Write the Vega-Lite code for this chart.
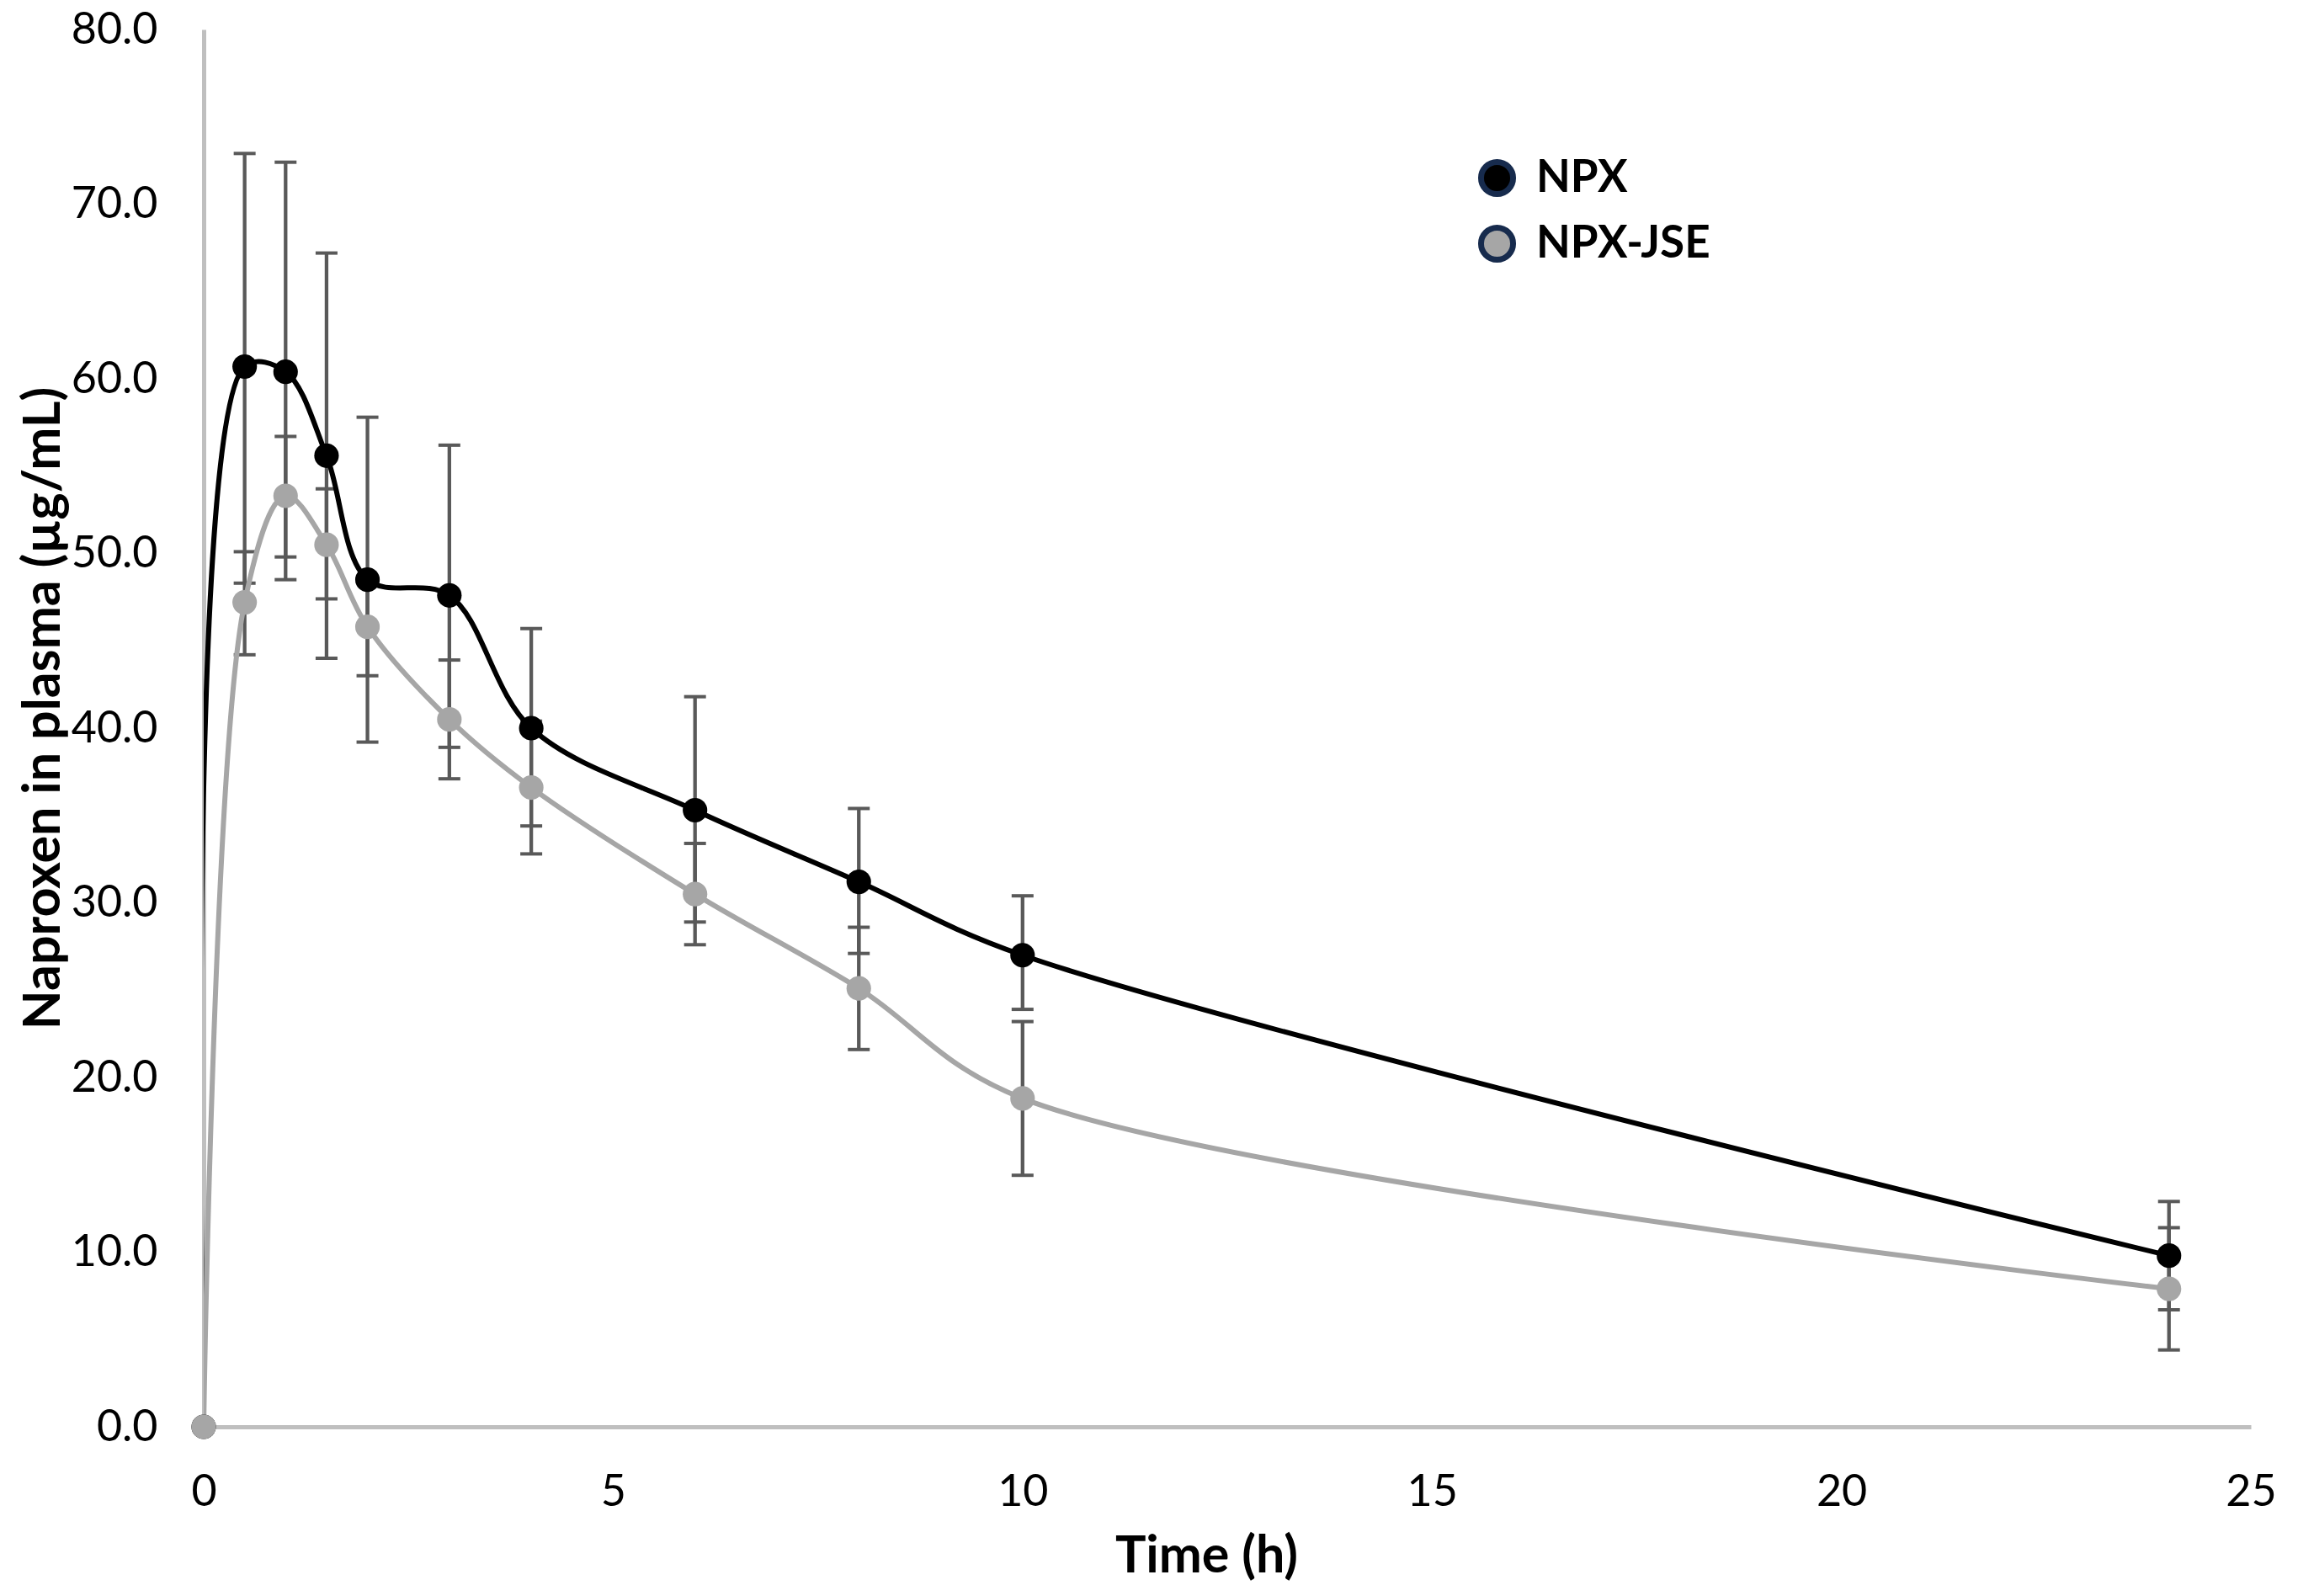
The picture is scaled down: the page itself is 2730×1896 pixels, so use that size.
{
  "$schema": "https://vega.github.io/schema/vega-lite/v6.json",
  "autosize": {"type": "none"},
  "width": 2432,
  "height": 1660,
  "padding": {"left": 242, "top": 35, "right": 56, "bottom": 201},
  "background": "#ffffff",
  "config": {
    "view": {"stroke": null},
    "font": "Lato",
    "axis": {
      "domainColor": "#bfbfbf",
      "domainWidth": 5,
      "ticks": false,
      "grid": false,
      "labelFlush": false,
      "labelFont": "Lato",
      "labelFontSize": 52,
      "labelColor": "#000000",
      "titleFont": "Lato",
      "titleFontSize": 61,
      "titleFontWeight": "bold",
      "titleColor": "#000000"
    }
  },
  "data": {
    "values": [
      {"series": "NPX", "t": 0, "c": 0, "lo": null, "hi": null},
      {"series": "NPX", "t": 0.5, "c": 60.7, "lo": 48.3, "hi": 72.9},
      {"series": "NPX", "t": 1, "c": 60.4, "lo": 48.5, "hi": 72.4},
      {"series": "NPX", "t": 1.5, "c": 55.6, "lo": 44.0, "hi": 67.2},
      {"series": "NPX", "t": 2, "c": 48.5, "lo": 39.2, "hi": 57.8},
      {"series": "NPX", "t": 3, "c": 47.6, "lo": 38.9, "hi": 56.2},
      {"series": "NPX", "t": 4, "c": 40.0, "lo": 34.4, "hi": 45.7},
      {"series": "NPX", "t": 6, "c": 35.3, "lo": 28.9, "hi": 41.8},
      {"series": "NPX", "t": 8, "c": 31.2, "lo": 27.1, "hi": 35.4},
      {"series": "NPX", "t": 10, "c": 27.0, "lo": 23.9, "hi": 30.4},
      {"series": "NPX", "t": 24, "c": 9.8, "lo": 6.7, "hi": 12.9},
      {"series": "NPX-JSE", "t": 0, "c": 0, "lo": null, "hi": null},
      {"series": "NPX-JSE", "t": 0.5, "c": 47.2, "lo": 44.2, "hi": 50.1},
      {"series": "NPX-JSE", "t": 1, "c": 53.3, "lo": 49.8, "hi": 56.7},
      {"series": "NPX-JSE", "t": 1.5, "c": 50.5, "lo": 47.4, "hi": 53.7},
      {"series": "NPX-JSE", "t": 2, "c": 45.8, "lo": 43.0, "hi": 48.6},
      {"series": "NPX-JSE", "t": 3, "c": 40.5, "lo": 37.1, "hi": 43.9},
      {"series": "NPX-JSE", "t": 4, "c": 36.6, "lo": 32.8, "hi": 40.4},
      {"series": "NPX-JSE", "t": 6, "c": 30.5, "lo": 27.6, "hi": 33.4},
      {"series": "NPX-JSE", "t": 8, "c": 25.1, "lo": 21.6, "hi": 28.6},
      {"series": "NPX-JSE", "t": 10, "c": 18.8, "lo": 14.4, "hi": 23.2},
      {"series": "NPX-JSE", "t": 24, "c": 7.9, "lo": 4.4, "hi": 11.4}
    ]
  },
  "encoding": {
    "x": {
      "field": "t", "type": "quantitative",
      "scale": {"domain": [0, 25], "nice": false, "zero": true},
      "axis": {"values": [0, 5, 10, 15, 20, 25], "title": "Time (h)", "labelPadding": 52,
               "titleX": 1191, "titleY": 154, "titleBaseline": "middle"}
    }
  },
  "layer": [
    {
      "mark": {"type": "rule", "color": "#595959", "strokeWidth": 4.3},
      "encoding": {
        "y": {"field": "lo", "type": "quantitative",
              "scale": {"domain": [0, 80], "nice": false},
              "axis": {"values": [0, 10, 20, 30, 40, 50, 60, 70, 80], "format": ".1f",
                       "title": "Naproxen in plasma (µg/mL)", "labelPadding": 55,
                       "titleX": -190, "titleY": 806, "titleAngle": -90, "titleBaseline": "middle"}},
        "y2": {"field": "hi"}
      }
    },
    {
      "mark": {"type": "tick", "orient": "horizontal", "color": "#595959", "size": 26, "thickness": 4, "opacity": 1},
      "encoding": {"y": {"field": "lo", "type": "quantitative"}}
    },
    {
      "mark": {"type": "tick", "orient": "horizontal", "color": "#595959", "size": 26, "thickness": 4, "opacity": 1},
      "encoding": {"y": {"field": "hi", "type": "quantitative"}}
    },
    {
      "mark": {"type": "line", "interpolate": "catmull-rom", "strokeWidth": 6, "clip": true},
      "encoding": {
        "y": {"field": "c", "type": "quantitative"},
        "stroke": {"field": "series", "type": "nominal",
                   "scale": {"range": ["#000000", "#a6a6a6"]},
                   "legend": null}
      }
    },
    {
      "mark": {"type": "point", "shape": "circle", "filled": true, "size": 850, "opacity": 1},
      "encoding": {
        "y": {"field": "c", "type": "quantitative"},
        "color": {"field": "series", "type": "nominal",
                  "scale": {"domain": ["NPX", "NPX-JSE"], "range": ["#000000", "#a6a6a6"]},
                  "legend": {
                    "title": null, "orient": "none", "legendX": 1510, "legendY": 150,
                    "padding": 0, "symbolSize": 1450, "symbolType": "circle",
                    "symbolStrokeColor": "#172b4d", "symbolStrokeWidth": 7,
                    "labelFont": "Lato", "labelFontSize": 53, "labelFontWeight": "bold",
                    "labelColor": "#000000", "labelOffset": 20, "rowPadding": 11, "labelLimit": 0,
                    "encode": {"symbols": {
                      "stroke": {"value": "#172b4d"},
                      "strokeWidth": {"value": 7},
                      "opacity": {"value": 1}
                    }}
                  }}
      }
    }
  ]
}
